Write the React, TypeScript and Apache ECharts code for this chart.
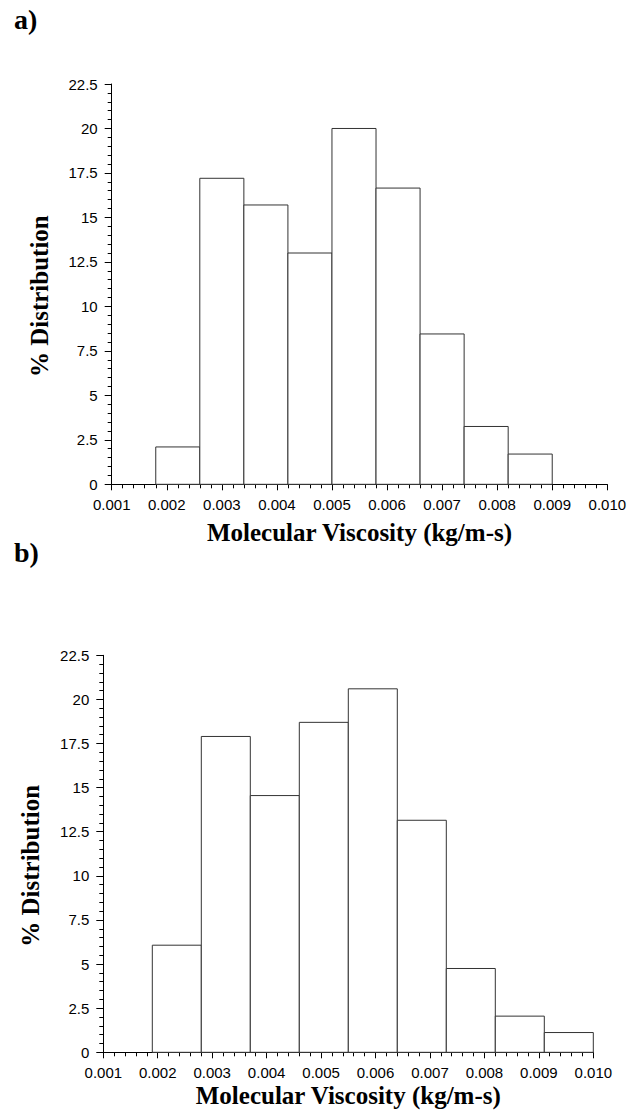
import React, { useEffect, useRef } from "react";
import * as echarts from "echarts";

// Panel a) histogram: bin [start, end] and % distribution
const binsA: number[][] = [
  [0.0018, 0.0026], [0.0026, 0.0034], [0.0034, 0.0042], [0.0042, 0.005],
  [0.005, 0.0058], [0.0058, 0.0066], [0.0066, 0.0074], [0.0074, 0.0082], [0.0082, 0.009],
];
const valuesA: number[] = [2.1, 17.2, 15.7, 13.0, 20.0, 16.65, 8.45, 3.25, 1.7];

// Panel b) histogram
const binsB: number[][] = [
  [0.0019, 0.0028], [0.0028, 0.0037], [0.0037, 0.0046], [0.0046, 0.0055],
  [0.0055, 0.0064], [0.0064, 0.0073], [0.0073, 0.0082], [0.0082, 0.0091], [0.0091, 0.01],
];
const valuesB: number[] = [6.07, 17.9, 14.55, 18.7, 20.6, 13.15, 4.75, 2.05, 1.12];

const xTitle = "Molecular Viscosity (kg/m-s)";
const yTitle = "% Distribution";
const panelLabels = ["a)", "b)"];

const W = 636;
const H = 1112;

export default function App() {
  const ref = useRef<HTMLDivElement>(null);
  useEffect(() => {
    if (!ref.current) return;
    const chart = echarts.init(ref.current, undefined, { renderer: "svg", width: W, height: H });
    const tickFont = { fontFamily: "Liberation Sans, Arial, sans-serif", fontSize: 15, color: "#000" };
    const titleFont = { fontFamily: "Liberation Serif, Times New Roman, serif", fontSize: 25, fontWeight: "bold" as const, color: "#000" };
    const xAxisBase = (gridIndex: number, gap: number) => ({
      type: "value" as const,
      gridIndex,
      min: 0.001,
      max: 0.01,
      interval: 0.001,
      axisLine: { show: true, lineStyle: { color: "#000", width: 1 } },
      axisTick: { show: true, length: 6, lineStyle: { color: "#000" } },
      minorTick: { show: true, splitNumber: 5, length: 4, lineStyle: { color: "#000" } },
      splitLine: { show: false },
      axisLabel: { ...tickFont, margin: 13, formatter: (v: number) => v.toFixed(3) },
      name: xTitle,
      nameLocation: "middle" as const,
      nameGap: gap,
      nameTextStyle: titleFont,
    });
    const yAxisBase = (gridIndex: number) => ({
      type: "value" as const,
      gridIndex,
      min: 0,
      max: 22.5,
      interval: 2.5,
      axisLine: { show: true, lineStyle: { color: "#000", width: 1 } },
      axisTick: { show: true, length: 7, lineStyle: { color: "#000" } },
      minorTick: { show: true, splitNumber: 5, length: 4, lineStyle: { color: "#000" } },
      splitLine: { show: false },
      axisLabel: { ...tickFont, margin: 14 },
      name: yTitle,
      nameLocation: "middle" as const,
      nameGap: 60,
      nameTextStyle: { ...titleFont, padding: [0, 24, 0, 0] },
    });
    const renderItem = (params: any, api: any) => {
      const s = api.value(0);
      const e = api.value(1);
      const v = api.value(2);
      const p0 = api.coord([s, v]);
      const p1 = api.coord([e, 0]);
      return {
        type: "rect",
        shape: { x: p0[0], y: p0[1], width: p1[0] - p0[0], height: p1[1] - p0[1] },
        style: { fill: "#fff", stroke: "#333", lineWidth: 1 },
      };
    };
    chart.setOption({
      animation: false,
      backgroundColor: "#fff",
      grid: [
        { left: 111.7, top: 84, width: 495.6, height: 400.3 },
        { left: 103.3, top: 655.3, width: 490, height: 397 },
      ],
      xAxis: [xAxisBase(0, 36), xAxisBase(1, 31)],
      yAxis: [yAxisBase(0), yAxisBase(1)],
      series: [
        {
          type: "custom",
          xAxisIndex: 0,
          yAxisIndex: 0,
          renderItem,
          encode: { x: [0, 1], y: 2 },
          data: binsA.map((b, i) => [b[0], b[1], valuesA[i]]),
        },
        {
          type: "custom",
          xAxisIndex: 1,
          yAxisIndex: 1,
          renderItem,
          encode: { x: [0, 1], y: 2 },
          data: binsB.map((b, i) => [b[0], b[1], valuesB[i]]),
        },
      ],
      graphic: [
        {
          type: "text",
          left: 14,
          top: 5,
          style: { text: panelLabels[0], font: "bold 28px 'Liberation Serif', serif", fill: "#000" },
        },
        {
          type: "text",
          left: 14,
          top: 538,
          style: { text: panelLabels[1], font: "bold 28px 'Liberation Serif', serif", fill: "#000" },
        },
      ],
    });
    return () => chart.dispose();
  }, []);
  return <div ref={ref} style={{ position: "absolute", left: 0, top: 0, width: W, height: H, background: "#fff" }} />;
}
